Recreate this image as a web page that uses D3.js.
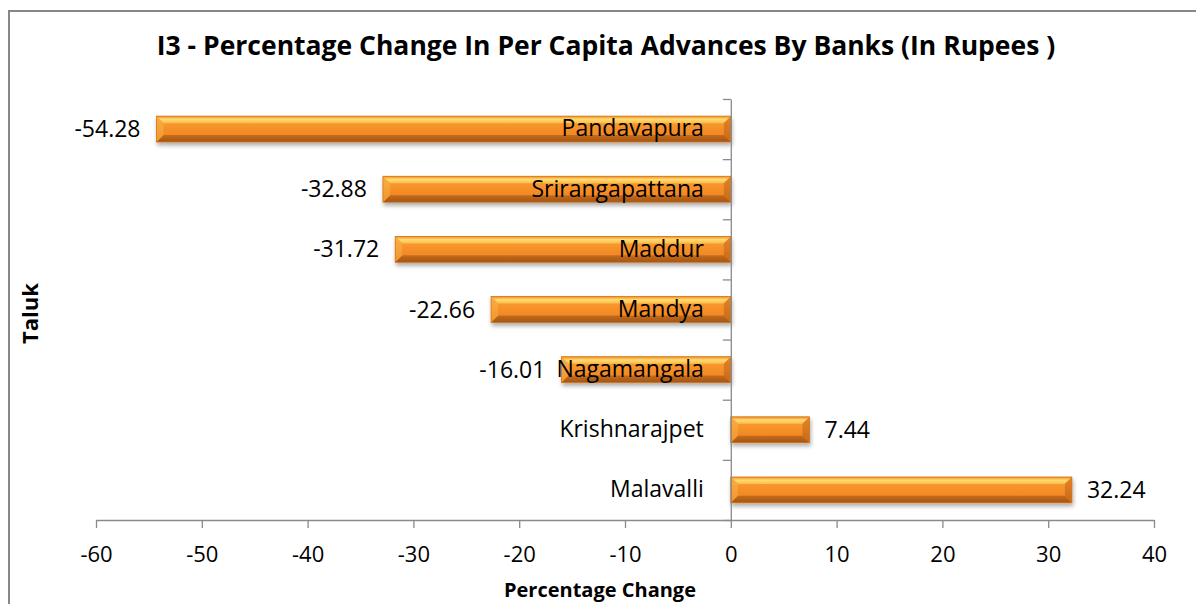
<!DOCTYPE html>
<html>
<head>
<meta charset="utf-8">
<script src="https://cdn.jsdelivr.net/npm/d3@7"></script>
<style>
  html, body { margin: 0; padding: 0; background: #fff; }
  svg { display: block; font-family: "Open Sans", "Noto Sans", sans-serif; }
</style>
</head>
<body>
<svg id="chart" width="1196" height="604"></svg>
<script>
// Taluks, top to bottom, and their percentage change in per capita advances
const taluks = ["Pandavapura", "Srirangapattana", "Maddur", "Mandya", "Nagamangala", "Krishnarajpet", "Malavalli"];
const changes = [-54.28, -32.88, -31.72, -22.66, -16.01, 7.44, 32.24];
const xTicks = [-60, -50, -40, -30, -20, -10, 0, 10, 20, 30, 40];

const titleText = "I3 - Percentage Change In Per Capita Advances By Banks (In Rupees )";
const xTitle = "Percentage Change";
const yTitle = "Taluk";

const W = 1196, H = 604;
const plot = { left: 96, right: 1154, top: 99, bottom: 520 };

// plain hyphen for negative numbers
const fmtTick = d => String(d);
const fmtValue = d => d3.format(".2f")(d).replace("\u2212", "-");

const svg = d3.select("#chart");

// Gradients and shadow for the bevelled bars
const defs = svg.append("defs");
function vGrad(id, stops) {
  const g = defs.append("linearGradient").attr("id", id)
    .attr("x1", 0).attr("y1", 0).attr("x2", 0).attr("y2", 1);
  stops.forEach(([o, c]) => g.append("stop").attr("offset", o).attr("stop-color", c));
}
vGrad("face", [[0, "#fca238"], [0.5, "#f58f28"], [1, "#ec8222"]]);
vGrad("bevelTop", [[0, "#ef8d25"], [0.45, "#fedc72"], [1, "#fcbc4a"]]);
vGrad("bevelBottom", [[0, "#c66b1b"], [1, "#a15515"]]);
vGrad("bevelLeft", [[0, "#f9ae46"], [1, "#f1962c"]]);
vGrad("bevelRight", [[0, "#e48327"], [1, "#c66a1a"]]);

const shadow = defs.append("filter").attr("id", "shadow")
  .attr("x", "-5%").attr("y", "-30%").attr("width", "110%").attr("height", "180%");
shadow.append("feDropShadow").attr("dx", 1).attr("dy", 3)
  .attr("stdDeviation", 2.2).attr("flood-color", "#000").attr("flood-opacity", 0.32);

// Chart border
svg.append("rect")
  .attr("x", 9).attr("y", 11).attr("width", W + 20).attr("height", H + 20)
  .attr("fill", "none").attr("stroke", "#878787").attr("stroke-width", 2);

// Scales
const x = d3.scaleLinear().domain([-60, 40]).range([plot.left, plot.right]);
const y = d3.scaleBand().domain(taluks).range([plot.top, plot.bottom])
  .paddingInner(0.57).paddingOuter(0.285);
const yEdges = d3.scaleLinear().domain([0, taluks.length]).range([plot.top, plot.bottom]);

const axisColor = "#8a8a8a";

// X axis
const xAxis = svg.append("g")
  .attr("transform", `translate(0,${plot.bottom})`)
  .call(d3.axisBottom(x).tickValues(xTicks).tickFormat(fmtTick)
    .tickSize(8).tickPadding(18).tickSizeOuter(0));
xAxis.select(".domain").attr("stroke", axisColor).attr("stroke-width", 1.3);
xAxis.selectAll(".tick line").attr("stroke", axisColor).attr("stroke-width", 1.3);
xAxis.selectAll(".tick text").attr("font-size", 22).attr("fill", "#000")
  .attr("font-family", "'Open Sans', sans-serif");

// Bars
const bars = svg.append("g").selectAll("g.bar")
  .data(taluks.map((t, i) => ({ t, v: changes[i] })))
  .join("g").attr("class", "bar").attr("filter", "url(#shadow)");

bars.each(function (d) {
  const g = d3.select(this);
  const x0 = x(Math.min(0, d.v)), x1 = x(Math.max(0, d.v));
  const y0 = y(d.t), y1 = y(d.t) + y.bandwidth();
  const b = Math.min(7, (x1 - x0) / 2, (y1 - y0) / 2);
  g.append("rect").attr("x", x0).attr("y", y0).attr("width", x1 - x0).attr("height", y1 - y0)
    .attr("fill", "url(#face)");
  const poly = (pts, fill) => g.append("polygon")
    .attr("points", pts.map(p => p.join(",")).join(" ")).attr("fill", fill);
  poly([[x0, y0], [x1, y0], [x1 - b, y0 + b], [x0 + b, y0 + b]], "url(#bevelTop)");
  poly([[x0, y1], [x1, y1], [x1 - b, y1 - b], [x0 + b, y1 - b]], "url(#bevelBottom)");
  poly([[x0, y0], [x0 + b, y0 + b], [x0 + b, y1 - b], [x0, y1]], "url(#bevelLeft)");
  poly([[x1, y0], [x1 - b, y0 + b], [x1 - b, y1 - b], [x1, y1]], "url(#bevelRight)");
  g.append("rect").attr("x", x0).attr("y", y0).attr("width", x1 - x0).attr("height", y1 - y0)
    .attr("fill", "none").attr("stroke", "#d8741a").attr("stroke-width", 0.8);
});

// Y axis: line with ticks at category boundaries, names beside the axis
const yTickG = svg.append("g")
  .attr("transform", `translate(${x(0)},0)`)
  .call(d3.axisLeft(yEdges).tickValues(d3.range(taluks.length + 1)).tickFormat("").tickSize(8).tickSizeOuter(0));
yTickG.select(".domain").attr("stroke", axisColor).attr("stroke-width", 1.3);
yTickG.selectAll(".tick line").attr("stroke", axisColor).attr("stroke-width", 1.3);

const yLab = svg.append("g")
  .attr("transform", `translate(${x(0)},0)`)
  .call(d3.axisLeft(y).tickSize(0).tickPadding(27));
yLab.select(".domain").remove();
yLab.selectAll(".tick text").attr("font-size", 23).attr("fill", "#000")
  .attr("font-family", "'Open Sans', sans-serif");

// Value labels
svg.append("g").selectAll("text")
  .data(taluks.map((t, i) => ({ t, v: changes[i] })))
  .join("text")
  .attr("x", d => d.v < 0 ? x(d.v) - 16 : x(d.v) + 15)
  .attr("y", d => y(d.t) + y.bandwidth() / 2)
  .attr("dy", "0.35em")
  .attr("text-anchor", d => d.v < 0 ? "end" : "start")
  .attr("font-size", 23).attr("fill", "#000")
  .text(d => fmtValue(d.v));

// Titles
svg.append("text")
  .attr("x", 606).attr("y", 55)
  .attr("text-anchor", "middle").attr("font-size", 26.5).attr("font-weight", "bold")
  .text(titleText);

svg.append("text")
  .attr("x", 600).attr("y", 597)
  .attr("text-anchor", "middle").attr("font-size", 20).attr("font-weight", "bold")
  .text(xTitle);

svg.append("text")
  .attr("transform", `translate(38,${(plot.top + plot.bottom) / 2 + 4}) rotate(-90)`)
  .attr("text-anchor", "middle").attr("font-size", 22).attr("font-weight", "bold")
  .text(yTitle);
</script>
</body>
</html>
